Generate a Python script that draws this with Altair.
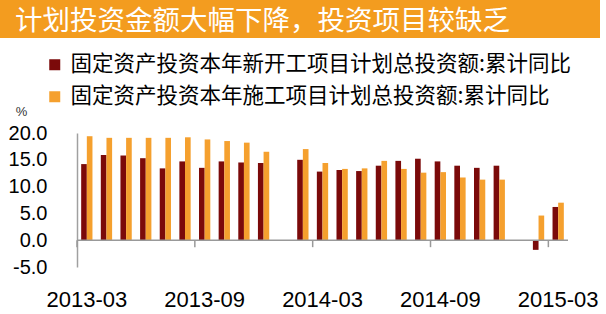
import altair as alt
import pandas as pd

months = ["2013-03", "2013-04", "2013-05", "2013-06", "2013-07", "2013-08", "2013-09",
          "2013-10", "2013-11", "2013-12", "2014-01", "2014-02", "2014-03", "2014-04",
          "2014-05", "2014-06", "2014-07", "2014-08", "2014-09", "2014-10", "2014-11",
          "2014-12", "2015-01", "2015-02", "2015-03"]
label_months = ["2013-03", "2013-09", "2014-03", "2014-09", "2015-03"]

series_new = "固定资产投资本年新开工项目计划总投资额:累计同比"
series_con = "固定资产投资本年施工项目计划总投资额:累计同比"

new_start = [14.2, 15.9, 15.8, 15.3, 13.4, 14.7, 13.5, 14.7, 14.5, 14.4, None, 15.0,
             12.8, 13.1, 12.9, 13.9, 14.8, 15.2, 14.7, 13.9, 13.5, 13.9, None, -1.8, 6.2]
under_con = [19.4, 19.1, 19.1, 19.1, 19.1, 19.2, 18.8, 18.5, 18.2, 16.5, None, 17.0,
             14.4, 13.3, 13.4, 14.8, 13.3, 12.6, 12.7, 11.7, 11.3, 11.3, None, 4.6, 7.0]

title_text = "计划投资金额大幅下降，投资项目较缺乏"
y_ticks = [-5, 0, 5, 10, 15, 20]

DARK = "#7B0A0A"
ORANGE = "#F5A02E"
CJK = "Noto Sans CJK SC"
NUM = "Liberation Sans"

rows = []
for m, a, b in zip(months, new_start, under_con):
    if a is not None:
        rows.append({"month": m, "series": series_new, "value": a})
    if b is not None:
        rows.append({"month": m, "series": series_con, "value": b})
df = pd.DataFrame(rows)

x_scale = alt.Scale(domain=months, paddingInner=0, paddingOuter=0)
y_scale = alt.Scale(domain=[-5, 20], nice=False, zero=False)

x_axis = alt.Axis(values=label_months, domain=False, ticks=False, labelAngle=0,
                  labelFontSize=22, labelFont=NUM, labelColor="black",
                  labelPadding=22, labelOverlap=False, title=None)
y_axis = alt.Axis(values=y_ticks, grid=False, ticks=False, tickSize=0,
                  domainColor="#A0A0A0", domainWidth=1.5,
                  labelExpr="replace(format(datum.value, '.1f'), '\u2212', '-')",
                  labelFontSize=20, labelFont=NUM, labelColor="black",
                  labelPadding=30, labelOverlap=False, labelFlush=False,
                  labelBound=False,
                  title="%", titleAngle=0, titleX=-56, titleY=-22,
                  titleAlign="center", titleBaseline="middle",
                  titleFontSize=13, titleFontWeight="normal", titleFont=NUM,
                  titleColor="#333333")

bars = alt.Chart(df).mark_bar().encode(
    x=alt.X("month:O", scale=x_scale, sort=months, axis=x_axis),
    xOffset=alt.XOffset("series:N", sort=[series_new, series_con],
                        scale=alt.Scale(domain=[series_new, series_con],
                                        paddingInner=0, paddingOuter=0.738)),
    y=alt.Y("value:Q", scale=y_scale, axis=y_axis),
    color=alt.Color("series:N",
                    scale=alt.Scale(domain=[series_new, series_con], range=[DARK, ORANGE]),
                    legend=alt.Legend(orient="none", legendX=-33, legendY=-79, title=None,
                                      direction="vertical", symbolType="square",
                                      symbolSize=121, symbolStrokeWidth=0,
                                      labelFontSize=21.5, labelFont=CJK, labelColor="black",
                                      labelLimit=700, rowPadding=9, labelOffset=5,
                                      padding=0)),
)

zero_rule = alt.Chart(pd.DataFrame({"value": [0]})).mark_rule(color="#999999", strokeWidth=1.5).encode(
    y=alt.Y("value:Q", scale=y_scale, axis=y_axis)
)

tick_df = pd.DataFrame({"month": label_months, "value": [0] * 5, "bottom": [-1.3] * 5})
tick_rules = alt.Chart(tick_df).mark_rule(color="#999999", strokeWidth=1.5).encode(
    x=alt.X("month:O", bandPosition=0, scale=x_scale, sort=months, axis=x_axis),
    y=alt.Y("value:Q", scale=y_scale, axis=y_axis),
    y2="bottom:Q",
)

banner = alt.Chart(pd.DataFrame({"a": [0]})).mark_rect(color="#F39C1F").encode(
    x=alt.value(-77), x2=alt.value(523), y=alt.value(-133), y2=alt.value(-95)
)

title = alt.Chart(pd.DataFrame({"t": [title_text]})).mark_text(
    align="left", baseline="middle", fontSize=27.5, font=CJK, color="white"
).encode(x=alt.value(-62), y=alt.value(-111), text="t:N")

chart = alt.layer(banner, title, bars, zero_rule, tick_rules).properties(
    width=491, height=134,
    autosize=alt.AutoSizeParams(type="none"),
    padding={"left": 77, "top": 133, "right": 38, "bottom": 47},
    background="white",
).configure_view(stroke=None).configure_axis(labelOverlap=False)

chart.save("out.html", embed_options={"renderer": "svg", "actions": False})
